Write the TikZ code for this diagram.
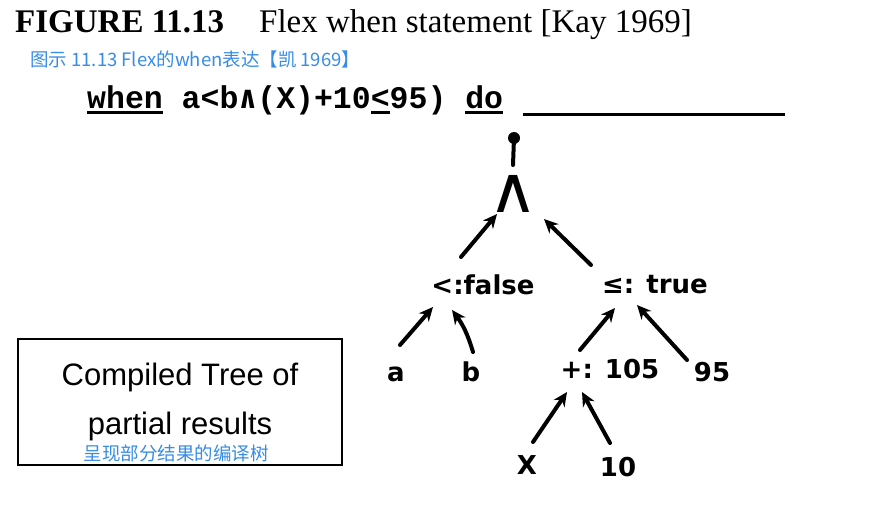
\documentclass[tikz,border=0pt]{standalone}
\usepackage{fontspec}
\setmainfont{Liberation Serif}
\newfontfamily\cjk{Noto Sans CJK SC}
\newfontfamily\tty{Liberation Mono}
\newfontfamily\ttyb{DejaVu Sans Mono}
\newfontfamily\hand{DejaVu Sans}
\newfontfamily\helv{Liberation Sans}
\usetikzlibrary{arrows.meta,calc}
\definecolor{cnblue}{RGB}{55,140,230}
\newcommand\ulbox[1]{\setbox0\hbox{#1}\rlap{\rule[-6pt]{\wd0}{3pt}}\box0\relax}
\tikzset{arr/.style={line width=4pt,line cap=round,-{Stealth[length=14pt,width=13pt]}},lbl/.style={inner sep=0pt,font=\hand\bfseries\fontsize{26}{26}\selectfont}}

\begin{document}
\begin{tikzpicture}[x=1pt,y=-1pt]
\useasboundingbox(0,0)rectangle(870,519);
\node[anchor=base west,inner sep=0pt](fig)at(15,33){\fontsize{33}{33}\selectfont\textbf{FIGURE 11.13}\hspace{35pt}Flex when statement [Kay 1969]};
\node[anchor=west,inner sep=0pt,cnblue](sub)at(30,59){\cjk\fontsize{18.5}{18.5}\selectfont 图示 11.13 Flex的when表达【凯 1969】};
\node[anchor=base west,inner sep=0pt](code)at(87,108){\tty\bfseries\fontsize{31.5}{31.5}\selectfont\ulbox{when} a<b{\ttyb ∧}(X)+10\ulbox{<}95) \ulbox{do}};\draw[line width=3pt]($(code.base east)+(20,6)$)--++(262,0);
\node[circle,fill,inner sep=0pt,minimum size=12pt](root)at(514,138){};\node[lbl](and)at(513,194){\mdseries\fontsize{40}{40}\selectfont\scalebox{1.7}[1.6]{∧}};\draw[line width=4pt,line cap=round](root.center)--($(root)+(-1,27)$);
\node[lbl](lt)at(483,285){<:false};\node[lbl](le)at(655,285){≤: true};
\node[lbl](a)at(396,374){a};\node[lbl](b)at(471,372){b};\node[lbl](plus)at(610,369){+: 105};\node[lbl](n95)at(712,372){95};
\node[lbl](x)at(527,465){X};\node[lbl](n10)at(618,467){10};
\draw[arr]($(lt)+(-22,-28)$)--($(and)+(-16,20)$);\draw[arr]($(le)+(-64,-20)$)--($(and)+(31,25)$);
\draw[arr]($(a)+(4,-29)$)--($(lt)+(-50,22)$);\draw[arr]($(b)+(2,-20)$)to[bend right=10]($(lt)+(-31,25)$);
\draw[arr]($(plus)+(-30,-19)$)--($(le)+(-40,23)$);\draw[arr]($(n95)+(-25,-12)$)--($(le)+(-18,20)$);
\draw[arr]($(x)+(6,-23)$)--($(plus)+(-43,23)$);\draw[arr]($(n10)+(-8,-24)$)--($(plus)+(-28,23)$);
\node[draw,line width=1.2pt,minimum width=324pt,minimum height=126pt,align=center,font=\helv\fontsize{31}{49}\selectfont](box)at(180,402){Compiled Tree of\\partial results};
\node[cnblue,inner sep=0pt,font=\cjk\fontsize{18.5}{18.5}\selectfont](cn)at(176,453){呈现部分结果的编译树};
\end{tikzpicture}
\end{document}
